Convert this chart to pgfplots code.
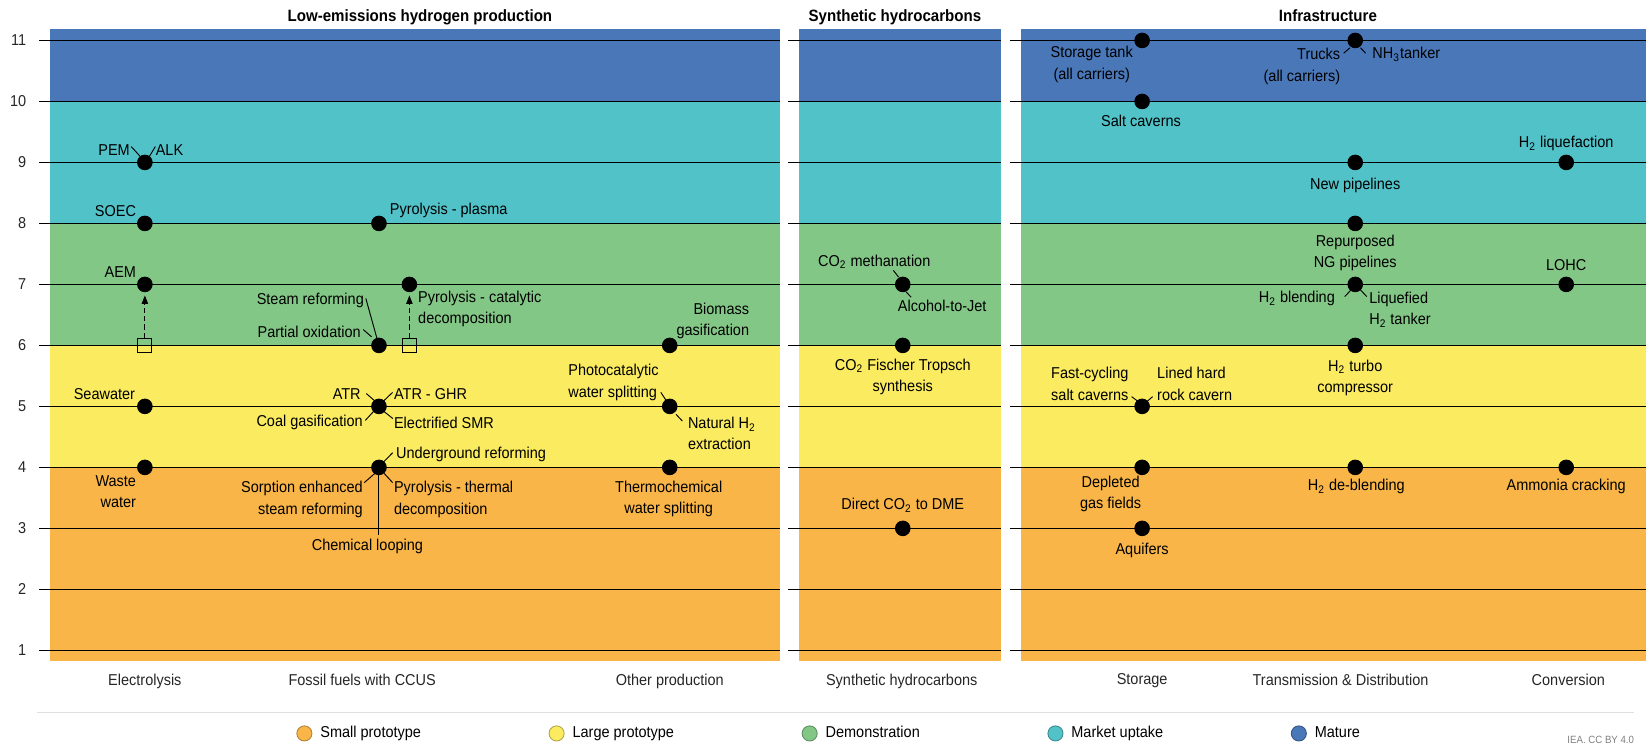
\documentclass[border=0pt]{standalone}
\usepackage{fontspec}
\setmainfont{Liberation Sans}[FakeStretch=0.92]
\usepackage{pgfplots}
\pgfplotsset{compat=1.18}
\usetikzlibrary{arrows.meta}

\definecolor{cSmall}{HTML}{F9B548}
\definecolor{cLarge}{HTML}{FAEB60}
\definecolor{cDemo}{HTML}{83C786}
\definecolor{cMarket}{HTML}{52C2C9}
\definecolor{cMature}{HTML}{4A77B8}

\newcommand{\lbl}{\fontsize{7.5}{10.2}\selectfont}
\newcommand{\ttl}{\fontsize{7.8}{9}\selectfont\bfseries}

% rounded square mark for the "previous TRL" markers
\pgfdeclareplotmark{rsquare}{%
  \pgfsetcornersarced{\pgfpoint{1.8pt}{1.8pt}}%
  \pgfpathmoveto{\pgfpoint{0pt}{-\pgfplotmarksize}}%
  \pgfpathlineto{\pgfpoint{\pgfplotmarksize}{-\pgfplotmarksize}}%
  \pgfpathlineto{\pgfpoint{\pgfplotmarksize}{\pgfplotmarksize}}%
  \pgfpathlineto{\pgfpoint{-\pgfplotmarksize}{\pgfplotmarksize}}%
  \pgfpathlineto{\pgfpoint{-\pgfplotmarksize}{-\pgfplotmarksize}}%
  \pgfpathclose
  \pgfusepathqstroke}

% TRL bands between x=#1 and x=#2
\newcommand{\bands}[2]{%
  \addplot[band=cSmall]  coordinates {(#1,0.82) (#2,0.82) (#2,4) (#1,4)} -- cycle;
  \addplot[band=cLarge]  coordinates {(#1,4) (#2,4) (#2,6) (#1,6)} -- cycle;
  \addplot[band=cDemo]   coordinates {(#1,6) (#2,6) (#2,8) (#1,8)} -- cycle;
  \addplot[band=cMarket] coordinates {(#1,8) (#2,8) (#2,10) (#1,10)} -- cycle;
  \addplot[band=cMature] coordinates {(#1,10) (#2,10) (#2,11.19) (#1,11.19)} -- cycle;
}

\pgfplotsset{
  trl panel/.style={
    x=0.5pt, y=29.05pt,
    ymin=0.82, ymax=11.19,
    anchor=south west,
    axis line style={draw=none},
    major tick length=0pt,
    ytick={1,...,11},
    ymajorgrids,
    grid style={black, line width=0.6pt},
    axis on top,
    clip=false,
    tick label style={font=\lbl, text=black!85},
    /pgf/number format/assume math mode=true,
    xticklabel style={yshift=-2.5pt},
    yticklabel style={xshift=-2.5pt},
    title style={font=\ttl, at={(0.5,1)}, anchor=base, yshift=-2.6pt},
  },
  band/.style={draw=none, fill=#1, forget plot},
  dots/.style={only marks, mark=*, mark size=3.5pt, black, forget plot},
  hollow/.style={only marks, mark=rsquare, mark size=3.3pt, forget plot,
    mark options={line width=0.5pt, draw=black}},
}
\tikzset{
  lab/.style={font=\lbl, inner sep=0pt, text=black},
  lead/.style={black, line width=0.45pt},
  up/.style={black, line width=0.5pt, dash pattern=on 2.5pt off 1.5pt,
    -{Triangle[length=4pt, width=3pt]}},
}

\begin{document}
\begin{tikzpicture}
\useasboundingbox (0,0) rectangle (784pt,355.5pt);

% ---------- Low-emissions hydrogen production ----------
\begin{axis}[trl panel, at={(18.5pt,40.5pt)},
  xmin=37, xmax=743,
  xtick={138,345,638},
  xticklabels={Electrolysis, Fossil fuels with CCUS, Other production},
  title={Low-emissions hydrogen production},
  title style={xshift=5pt}]
\bands{48}{743}
\addplot[dots] coordinates {
  (138,9) (138,8) (138,7) (138,5) (138,4)
  (361,8) (361,6) (361,5) (361,4) (390,7)
  (638,6) (638,5) (638,4)};
\addplot[hollow] coordinates {(138,6) (390,6)};

\draw[up] (axis cs:138,6.12) -- (axis cs:138,6.82);
\draw[up] (axis cs:390,6.12) -- (axis cs:390,6.82);

% electrolysis
\node[lab, anchor=east] at (axis cs:124,9.21) {PEM};
\node[lab, anchor=west] at (axis cs:148,9.21) {ALK};
\draw[lead] (axis cs:125,9.26) -- (axis cs:134,9.09);
\draw[lead] (axis cs:142,9.09) -- (axis cs:148,9.26);
\node[lab, anchor=east] at (axis cs:130,8.21) {SOEC};
\node[lab, anchor=east] at (axis cs:130,7.20) {AEM};
\node[lab, anchor=east] at (axis cs:129,5.21) {Seawater};
\node[lab, anchor=east, align=right] at (axis cs:130,3.605) {Waste\\water};

% fossil fuels with CCUS
\node[lab, anchor=west] at (axis cs:371,8.22) {Pyrolysis - plasma};
\node[lab, anchor=east] at (axis cs:347,6.74) {Steam reforming};
\draw[lead] (axis cs:348.5,6.77) -- (axis cs:359,6.12);
\node[lab, anchor=east] at (axis cs:344,6.22) {Partial oxidation};
\draw[lead] (axis cs:346,6.26) -- (axis cs:354,6.14);
\node[lab, anchor=west, align=left] at (axis cs:398,6.60) {Pyrolysis - catalytic\\decomposition};

\node[lab, anchor=east] at (axis cs:344,5.21) {ATR};
\draw[lead] (axis cs:349,5.21) -- (axis cs:357,5.09);
\node[lab, anchor=west] at (axis cs:375,5.21) {ATR - GHR};
\draw[lead] (axis cs:374,5.23) -- (axis cs:365.5,5.09);
\node[lab, anchor=east] at (axis cs:346,4.73) {Coal gasification};
\draw[lead] (axis cs:348,4.77) -- (axis cs:356,4.92);
\node[lab, anchor=west] at (axis cs:375,4.73) {Electrified SMR};
\draw[lead] (axis cs:374.3,4.80) -- (axis cs:365.5,4.92);

\node[lab, anchor=west] at (axis cs:377,4.21) {Underground reforming};
\draw[lead] (axis cs:374,4.24) -- (axis cs:365.5,4.09);
\node[lab, anchor=east, align=right] at (axis cs:346,3.475) {Sorption enhanced\\steam reforming};
\draw[lead] (axis cs:347,3.75) -- (axis cs:357,3.90);
\node[lab, anchor=west, align=left] at (axis cs:375,3.475) {Pyrolysis - thermal\\decomposition};
\draw[lead] (axis cs:374,3.75) -- (axis cs:366,3.90);
\draw[lead] (axis cs:361,4) -- (axis cs:361,2.89);
\node[lab] at (axis cs:350,2.70) {Chemical looping};

% other production
\node[lab, anchor=east, align=right] at (axis cs:714,6.405) {Biomass\\gasification};
\node[lab, anchor=west, align=left] at (axis cs:541,5.39) {Photocatalytic\\water splitting};
\draw[lead] (axis cs:629.5,5.23) -- (axis cs:634.5,5.10);
\node[lab, anchor=west, align=left] at (axis cs:655,4.555) {Natural H\textsubscript{2}\\extraction};
\draw[lead] (axis cs:644,4.87) -- (axis cs:650,4.76);
\node[lab, align=center] at (axis cs:637,3.485) {Thermochemical\\water splitting};
\end{axis}

% ---------- Synthetic hydrocarbons ----------
\begin{axis}[trl panel, at={(375.5pt,40.5pt)},
  xmin=751, xmax=954,
  yticklabels={},
  xtick={859},
  xticklabels={Synthetic hydrocarbons},
  title={Synthetic hydrocarbons}]
\bands{761}{954}
\addplot[dots] coordinates {(860,7) (860,6) (860,3)};

\node[lab, anchor=west] at (axis cs:779,7.37) {CO\textsubscript{2} methanation};
\draw[lead] (axis cs:851,7.23) -- (axis cs:856,7.12);
\node[lab, anchor=west] at (axis cs:855,6.65) {Alcohol-to-Jet};
\draw[lead] (axis cs:863,6.88) -- (axis cs:868,6.79);
\node[lab, align=center] at (axis cs:860,5.485) {CO\textsubscript{2} Fischer Tropsch\\synthesis};
\node[lab] at (axis cs:860,3.38) {Direct CO\textsubscript{2} to DME};
\end{axis}

% ---------- Infrastructure ----------
\begin{axis}[trl panel, at={(481pt,40.5pt)},
  xmin=962, xmax=1568,
  yticklabels={},
  xtick={1088,1277,1494},
  xticklabels={Storage, Transmission \& Distribution, Conversion},
  title={Infrastructure},
  legend columns=5,
  legend style={draw=none, fill=none, font=\lbl,
    at={(-0.282,-0.114)}, anchor=center,
    column sep=2pt,
    /tikz/every even column/.append style={column sep=59pt}}]
\bands{973}{1568}
\addplot[dots] coordinates {
  (1088,11) (1088,10) (1088,5) (1088,4) (1088,3)
  (1291,11) (1291,9) (1291,8) (1291,7) (1291,6) (1291,4)
  (1492,9) (1492,7) (1492,4)};

% storage
\node[lab, align=center] at (axis cs:1040,10.605) {Storage tank\\(all carriers)};
\node[lab] at (axis cs:1087,9.68) {Salt caverns};
\node[lab, anchor=west, align=left] at (axis cs:1001,5.37) {Fast-cycling\\salt caverns};
\draw[lead] (axis cs:1078,5.16) -- (axis cs:1085,5.07);
\node[lab, anchor=west, align=left] at (axis cs:1102,5.37) {Lined hard\\rock cavern};
\draw[lead] (axis cs:1098,5.16) -- (axis cs:1092,5.07);
\node[lab, align=center] at (axis cs:1058,3.565) {Depleted\\gas fields};
\node[lab] at (axis cs:1088,2.64) {Aquifers};

% transmission & distribution
\node[lab, anchor=east, align=right] at (axis cs:1277,10.575) {Trucks\\(all carriers)};
\draw[lead] (axis cs:1280,10.79) -- (axis cs:1286,10.88);
\node[lab, anchor=west] at (axis cs:1307,10.77) {NH\textsubscript{3}tanker};
\draw[lead] (axis cs:1301,10.79) -- (axis cs:1296,10.88);
\node[lab] at (axis cs:1291,8.63) {New pipelines};
\node[lab, align=center] at (axis cs:1291,7.515) {Repurposed\\NG pipelines};
\node[lab, anchor=east] at (axis cs:1272,6.77) {H\textsubscript{2} blending};
\draw[lead] (axis cs:1281,6.80) -- (axis cs:1287,6.91);
\node[lab, anchor=west, align=left] at (axis cs:1304,6.59) {Liquefied\\H\textsubscript{2} tanker};
\draw[lead] (axis cs:1302,6.80) -- (axis cs:1296,6.91);
\node[lab, align=center] at (axis cs:1291,5.47) {H\textsubscript{2} turbo\\compressor};
\node[lab] at (axis cs:1292,3.68) {H\textsubscript{2} de-blending};

% conversion
\node[lab] at (axis cs:1492,9.31) {H\textsubscript{2} liquefaction};
\node[lab] at (axis cs:1492,7.32) {LOHC};
\node[lab] at (axis cs:1492,3.68) {Ammonia cracking};

% legend, rule and source
\addlegendimage{only marks, mark=*, mark size=3.6pt, mark options={fill=cSmall, draw=cSmall!70!black, line width=0.4pt}}
\addlegendentry{Small prototype}
\addlegendimage{only marks, mark=*, mark size=3.6pt, mark options={fill=cLarge, draw=cLarge!70!black, line width=0.4pt}}
\addlegendentry{Large prototype}
\addlegendimage{only marks, mark=*, mark size=3.6pt, mark options={fill=cDemo, draw=cDemo!70!black, line width=0.4pt}}
\addlegendentry{Demonstration}
\addlegendimage{only marks, mark=*, mark size=3.6pt, mark options={fill=cMarket, draw=cMarket!70!black, line width=0.4pt}}
\addlegendentry{Market uptake}
\addlegendimage{only marks, mark=*, mark size=3.6pt, mark options={fill=cMature, draw=cMature!70!black, line width=0.4pt}}
\addlegendentry{Mature}

\draw[black!12, line width=0.6pt] (axis cs:35,-0.02) -- (axis cs:1557,-0.02);
\node[anchor=east, inner sep=0pt, text=black!50, font=\fontsize{5}{6}\selectfont]
  at (axis cs:1557,-0.46) {IEA. CC BY 4.0};
\end{axis}
\end{tikzpicture}
\end{document}
